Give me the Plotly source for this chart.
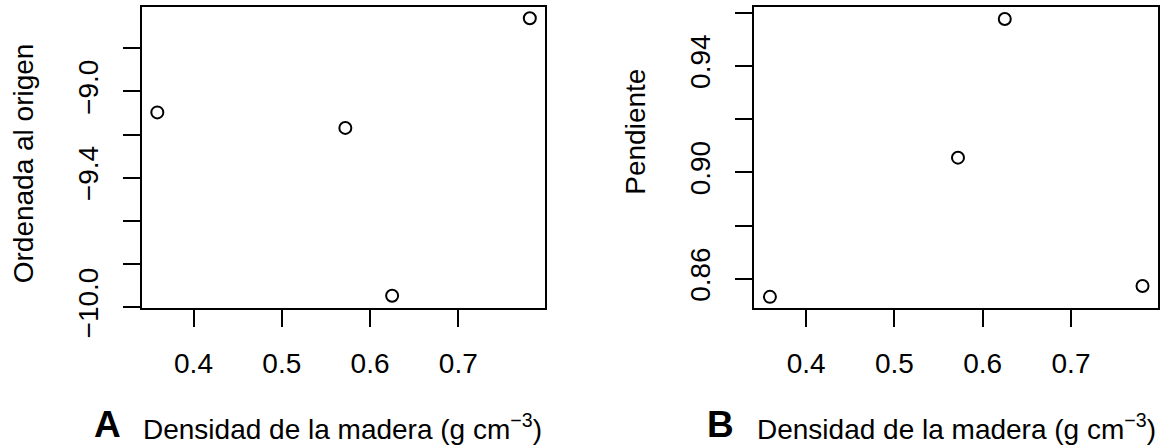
import plotly.graph_objects as go

# Data
densidad = [0.359, 0.572, 0.625, 0.781]
ordenada = [-9.097, -9.169, -9.947, -8.661]
pendiente = [0.8532, 0.9055, 0.9576, 0.8573]

x_ticks = [0.4, 0.5, 0.6, 0.7]
x_ticktext = ["0.4", "0.5", "0.6", "0.7"]
yA_ticks = [-10.0, -9.4, -9.0]
yA_ticktext = ["\u221210.0", "\u22129.4", "\u22129.0"]
yA_minor = [-9.8, -9.6, -9.2, -8.8]
yB_ticks = [0.86, 0.90, 0.94]
yB_ticktext = ["0.86", "0.90", "0.94"]
yB_minor = [0.88, 0.92, 0.96]

W, H = 1165, 445
FONT = "Liberation Sans, Arial, Helvetica, sans-serif"
FS = 28

def px(x):
    return x / W

def py(y):
    return 1 - y / H

fig = go.Figure()
fig.add_trace(go.Scatter(x=densidad, y=ordenada, mode="markers", xaxis="x", yaxis="y",
                         marker=dict(symbol="circle-open", size=12, color="black",
                                     line=dict(width=2, color="black")),
                         showlegend=False))
fig.add_trace(go.Scatter(x=densidad, y=pendiente, mode="markers", xaxis="x2", yaxis="y2",
                         marker=dict(symbol="circle-open", size=12, color="black",
                                     line=dict(width=2, color="black")),
                         showlegend=False))

ax_common = dict(showgrid=False, zeroline=False, showline=True, mirror=True,
                 linecolor="black", linewidth=2, ticks="outside", ticklen=17,
                 tickwidth=2, tickcolor="black",
                 tickfont=dict(family=FONT, size=FS, color="black"),
                 automargin=False)

def minor(vals):
    return dict(tickvals=vals, ticks="outside", ticklen=17, tickwidth=2,
                tickcolor="black", showgrid=False)

xr = [0.3413, 0.7982]
fig.update_layout(
    width=W, height=H,
    margin=dict(l=0, r=0, t=0, b=0),
    paper_bgcolor="white", plot_bgcolor="white",
    xaxis=dict(domain=[px(141.7), px(545)], range=xr, anchor="y",
               tickvals=x_ticks, ticktext=x_ticktext, ticklabelstandoff=12, **ax_common),
    yaxis=dict(domain=[py(308.3), py(7.3)], range=[-10.005, -8.610], anchor="x",
               tickvals=yA_ticks, ticktext=yA_ticktext, tickangle=-90,
               minor=minor(yA_minor), ticklabelstandoff=14, **ax_common),
    xaxis2=dict(domain=[px(754.3), px(1157.7)], range=xr, anchor="y2",
                tickvals=x_ticks, ticktext=x_ticktext, ticklabelstandoff=12, **ax_common),
    yaxis2=dict(domain=[py(308.3), py(7.3)], range=[0.8489, 0.9620], anchor="x2",
                tickvals=yB_ticks, ticktext=yB_ticktext, tickangle=-90,
                minor=minor(yB_minor), ticklabelstandoff=14, **ax_common),
)

tf = dict(family=FONT, size=FS, color="black")
ann = [
    dict(text="Ordenada al origen", x=px(23), y=py(163.3), textangle=-90),
    dict(text="Pendiente", x=px(636), y=py(131.7), textangle=-90),
    dict(text="Densidad de la madera (g cm<sup>\u22123</sup>)", x=px(342.5), y=py(427)),
    dict(text="Densidad de la madera (g cm<sup>\u22123</sup>)", x=px(956), y=py(427)),
]
for a in ann:
    fig.add_annotation(xref="paper", yref="paper", showarrow=False,
                       xanchor="center", yanchor="middle", font=tf, **a)
fig.add_annotation(text="<b>A</b>", xref="paper", yref="paper", x=px(107.3), y=py(424),
                   showarrow=False, xanchor="center", yanchor="middle",
                   font=dict(family=FONT, size=37, color="black"))
fig.add_annotation(text="<b>B</b>", xref="paper", yref="paper", x=px(720.5), y=py(424),
                   showarrow=False, xanchor="center", yanchor="middle",
                   font=dict(family=FONT, size=37, color="black"))

fig.write_html("out.html")
